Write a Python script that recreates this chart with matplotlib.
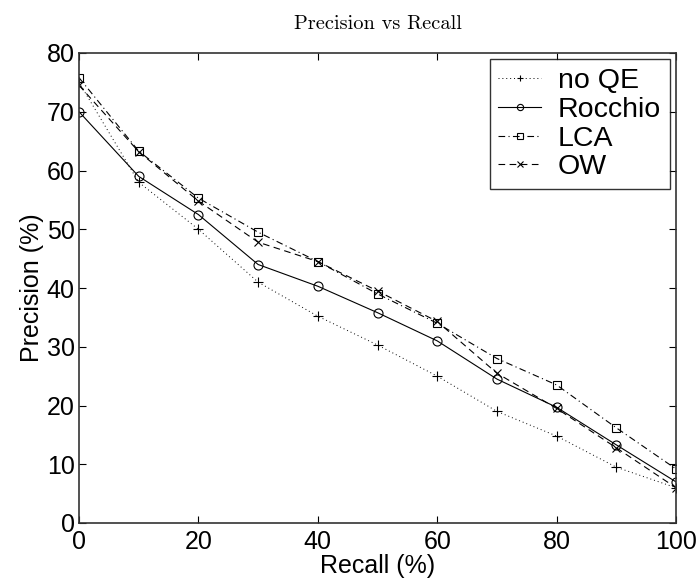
import numpy as np
import matplotlib
matplotlib.use("Agg")
import matplotlib.pyplot as plt

# data
recall = [0, 10, 20, 30, 40, 50, 60, 70, 80, 90, 100]
no_qe = [75.0, 58.0, 50.0, 41.0, 35.2, 30.3, 25.0, 19.0, 14.8, 9.5, 6.0]
rocchio = [70.0, 59.0, 52.5, 44.0, 40.3, 35.8, 31.0, 24.5, 19.7, 13.3, 7.0]
lca = [75.8, 63.3, 55.3, 49.5, 44.5, 39.0, 34.0, 28.0, 23.5, 16.2, 9.2]
ow = [74.5, 63.2, 54.8, 47.8, 44.5, 39.5, 34.3, 25.5, 19.5, 12.8, 6.0]

plt.rcParams["font.family"] = ["Liberation Sans", "DejaVu Sans"]

fig = plt.figure(figsize=(6.99, 5.84), dpi=100)
ax = fig.add_axes([79 / 699, 1 - 523 / 584, 597 / 699, 470 / 584])

ms = 5.5
ax.plot(recall, no_qe, color="black", linestyle=(0, (1, 3)), linewidth=0.7,
        marker="+", markersize=ms + 1, markeredgewidth=0.8, label="no QE")
ax.plot(recall, rocchio, color="black", linestyle="-", linewidth=0.8,
        marker="o", markersize=ms + 1, markerfacecolor="none", markeredgewidth=0.8, label="Rocchio")
ax.plot(recall, lca, color="black", linestyle=(0, (6, 3, 1, 3)), linewidth=0.8,
        marker="s", markersize=ms, markerfacecolor="none", markeredgewidth=0.8, label="LCA")
ax.plot(recall, ow, color="black", linestyle=(0, (6, 4)), linewidth=0.8,
        marker="x", markersize=ms, markeredgewidth=0.8, label="OW")

ax.set_xlim(0, 100)
ax.set_ylim(0, 80)
ax.set_xticks(np.arange(0, 101, 20))
ax.set_yticks(np.arange(0, 81, 10))
ax.tick_params(direction="in", top=True, right=True, labelsize=18, length=5, width=0.8)
ax.tick_params(axis="x", pad=5)
ax.tick_params(axis="y", pad=3)
for s in ax.spines.values():
    s.set_linewidth(1.2)
    s.set_color("#333333")

ax.set_xlabel("Recall (%)", fontsize=18, labelpad=0)
ax.set_ylabel("Precision (%)", fontsize=18, labelpad=2)
ax.set_title("Precision vs Recall", fontsize=14.7, family="cmr10", pad=17)

leg = ax.legend(loc="upper right", fontsize=20.5, frameon=True, fancybox=False,
                edgecolor="black", numpoints=1, handlelength=1.5, borderaxespad=0.22,
                labelspacing=0.1, handletextpad=0.6, borderpad=0.3)
leg.get_frame().set_linewidth(1.0)
for h in leg.legend_handles:
    h.set_markersize(4.5)

fig.savefig("out.png", dpi=100)
